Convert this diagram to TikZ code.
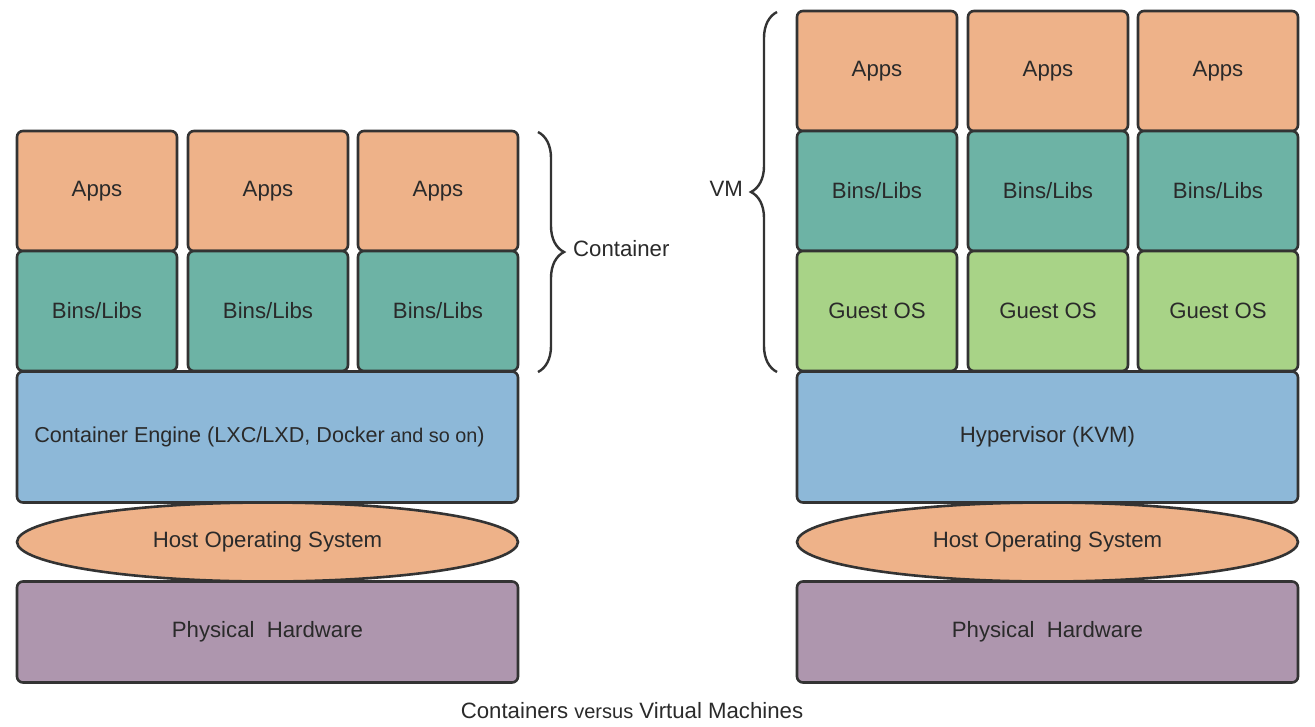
\documentclass[tikz,border=0pt]{standalone}
\usepackage{fontspec}
\setmainfont{Liberation Sans}
\usetikzlibrary{shapes.geometric,decorations.pathreplacing}
\definecolor{appc}{HTML}{EEB289}
\definecolor{binc}{HTML}{6DB3A5}
\definecolor{guestc}{HTML}{A8D387}
\definecolor{engc}{HTML}{8DB8D8}
\definecolor{hwc}{HTML}{AE96AE}
\definecolor{linec}{HTML}{333333}
\definecolor{textc}{HTML}{2A2A2A}
\begin{document}
\begin{tikzpicture}[x=1pt,y=-1pt,
  box/.style={draw=linec, line width=2.6pt, rounded corners=6pt, inner sep=0pt,
    text=textc, font=\fontsize{22.2}{26}\selectfont},
  cell/.style={box, minimum width=160pt, minimum height=120pt},
  wide/.style={box, minimum width=501pt},
  hostos/.style={draw=linec, line width=2.6pt, ellipse, fill=appc, inner sep=0pt,
    minimum width=501pt, minimum height=79pt, text=textc, font=\fontsize{22.2}{26}\selectfont},
  bracepath/.style={draw=linec, line width=2.4pt, decorate,
    decoration={brace, amplitude=26pt, aspect=0.5}},
  lbl/.style={text=textc, font=\fontsize{22.2}{26}\selectfont, inner sep=0pt}
]
\useasboundingbox (0,0) rectangle (1315,726);
\fill[white] (0,0) rectangle (1315,726);

% ---------- Containers (left) ----------
\node[cell, fill=appc] (ca1) at (97,191) {Apps};
\node[cell, fill=appc] (ca2) at (268,191) {Apps};
\node[cell, fill=appc] (ca3) at (438,191) {Apps};
\node[cell, fill=binc] (cb1) at (97,311) {Bins/Libs};
\node[cell, fill=binc] (cb2) at (268,311) {Bins/Libs};
\node[cell, fill=binc] (cb3) at (438,311) {Bins/Libs};
\node[wide, fill=engc, minimum height=131pt, font=\fontsize{21.6}{26}\selectfont] (ceng) at (267.5,437)
  {Container Engine (LXC/LXD, Docker{\fontsize{19.8}{24}\selectfont\ and so on})\hspace*{16pt}};
\node[hostos] (chost) at (267.5,542) {Host Operating System};
\node[wide, fill=hwc, minimum height=101pt] (chw) at (267.5,632) {Physical\ \ Hardware};

% ---------- Virtual machines (right) ----------
\node[cell, fill=appc] (va1) at (877,71) {Apps};
\node[cell, fill=appc] (va2) at (1048,71) {Apps};
\node[cell, fill=appc] (va3) at (1218,71) {Apps};
\node[cell, fill=binc] (vb1) at (877,191) {Bins/Libs};
\node[cell, fill=binc] (vb2) at (1048,191) {Bins/Libs};
\node[cell, fill=binc] (vb3) at (1218,191) {Bins/Libs};
\node[cell, fill=guestc] (vg1) at (877,311) {Guest OS};
\node[cell, fill=guestc] (vg2) at (1048,311) {Guest OS};
\node[cell, fill=guestc] (vg3) at (1218,311) {Guest OS};
\node[wide, fill=engc, minimum height=131pt] (veng) at (1047.5,437) {Hypervisor (KVM)};
\node[hostos] (vhost) at (1047.5,542) {Host Operating System};
\node[wide, fill=hwc, minimum height=101pt] (vhw) at (1047.5,632) {Physical\ \ Hardware};

% ---------- Braces ----------
\coordinate (cbt) at (538,132);
\coordinate (cbb) at (538,372);
\draw[bracepath] (cbt) -- (cbb);
\node[lbl, anchor=west] (clbl) at (573,249) {Container};

\coordinate (vbt) at (777,12);
\coordinate (vbb) at (777,372);
\draw[bracepath] (vbb) -- (vbt);
\node[lbl, anchor=east] (vlbl) at (743,189) {VM};

% ---------- Caption ----------
\node[lbl] (cap) at (632,711) {Containers {\fontsize{20}{24}\selectfont versus} Virtual Machines};
\end{tikzpicture}
\end{document}
